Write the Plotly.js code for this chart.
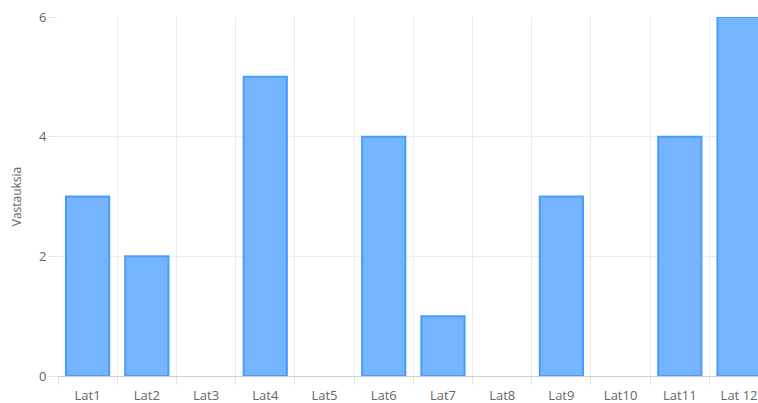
<!DOCTYPE html>
<html>
<head>
<meta charset="utf-8">
<script src="https://cdn.plot.ly/plotly-3.0.1.min.js"></script>
<style>
  html, body { margin: 0; padding: 0; overflow: hidden; background: #fff; }
  #chart { width: 758px; height: 403px; }
</style>
</head>
<body>
<div id="chart"></div>
<script>
// Answer counts per category
const categories = ["Lat1", "Lat2", "Lat3", "Lat4", "Lat5", "Lat6", "Lat7", "Lat8", "Lat9", "Lat10", "Lat11", "Lat 12"];
const answers = [3, 2, 0, 5, 0, 4, 1, 0, 3, 0, 4, 6];
const yTicks = [0, 2, 4, 6];
const yTitle = "Vastauksia";

const trace = {
  type: "bar",
  x: categories,
  y: answers,
  marker: {
    color: "rgba(117,180,255,1)",
    // no outline on empty bars, so nothing is drawn over the baseline
    line: { color: "rgba(72,156,255,1)", width: answers.map(v => (v > 0 ? 2 : 0)) }
  },
  hoverinfo: "x+y"
};

const layout = {
  width: 758,
  height: 403,
  margin: { l: 58, r: 0, t: 17, b: 27 },
  paper_bgcolor: "#ffffff",
  plot_bgcolor: "#ffffff",
  showlegend: false,
  bargap: 0.27,
  font: { family: "Open Sans, sans-serif", size: 13, color: "#666666" },
  xaxis: {
    type: "category",
    // last category runs past the right edge of the canvas
    range: [-0.5, 11.32],
    tickson: "boundaries",
    ticks: "outside",
    ticklen: 8,
    tickcolor: "#e4e4e4",
    tickwidth: 1,
    ticklabelstandoff: 7,
    showgrid: true,
    gridcolor: "#ebebeb",
    gridwidth: 1,
    showline: true,
    linecolor: "#cfcfcf",
    linewidth: 1,
    zeroline: false,
    tickfont: { family: "Open Sans, sans-serif", size: 13, color: "#666666" },
    fixedrange: true
  },
  yaxis: {
    range: [0, 6],
    tickvals: yTicks,
    ticktext: yTicks.map(String),
    ticks: "outside",
    ticklen: 8,
    tickcolor: "#e4e4e4",
    showgrid: true,
    gridcolor: "#ebebeb",
    zeroline: true,
    zerolinecolor: "#cfcfcf",
    zerolinewidth: 1,
    showline: false,
    tickfont: { family: "Open Sans, sans-serif", size: 13, color: "#666666" },
    title: { text: yTitle, font: { family: "Open Sans, sans-serif", size: 12, color: "#666666" }, standoff: 14 },
    fixedrange: true
  }
};

Plotly.newPlot("chart", [trace], layout, { displayModeBar: false, staticPlot: true });
</script>
</body>
</html>
